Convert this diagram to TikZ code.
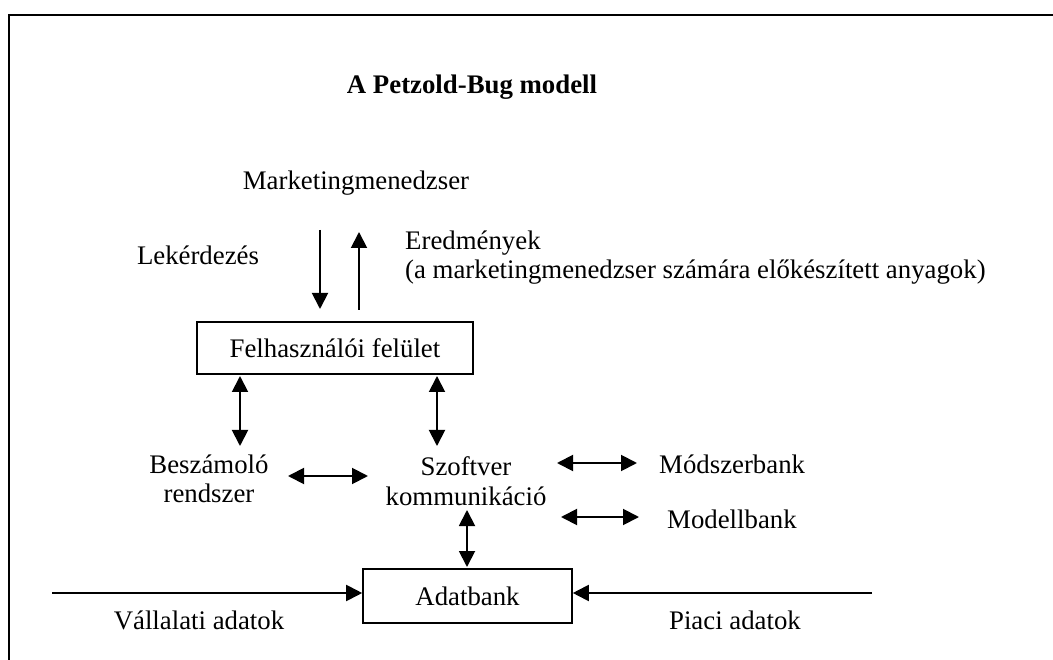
\documentclass[tikz,border=0pt]{standalone}
\usepackage{fontspec}
\setmainfont{Liberation Serif}
\usetikzlibrary{arrows.meta}
\begin{document}
\begin{tikzpicture}[x=1pt,y=-1pt,
  lbl/.style={inner sep=0pt, font=\fontsize{26.8}{29.5}\selectfont},
  box/.style={draw, line width=1.6pt, inner sep=0pt, font=\fontsize{26.8}{29.5}\selectfont},
  arr/.style={line width=1.9pt, -{Triangle[length=16pt,width=16pt]}},
  dbl/.style={line width=1.9pt, {Triangle[length=16pt,width=16pt]}-{Triangle[length=16pt,width=16pt]}}]
\useasboundingbox (0,0) rectangle (1053,660);
\draw[line width=2.2pt] (9,660) -- (9,15) -- (1053,15);

% texts
\node[lbl, font=\fontsize{26.8}{29.5}\selectfont\bfseries] (title) at (472,87) {A Petzold-Bug modell};
\node[lbl] (mm) at (356,183) {Marketingmenedzser};
\node[lbl] (lek) at (198,255) {Lekérdezés};
\node[lbl, anchor=west, align=left] (ered) at (405,257.5) {Eredmények\\(a marketingmenedzser számára előkészített anyagok)};
\node[box, minimum width=276pt, minimum height=52pt] (fel) at (335,348) {Felhasználói felület};
\node[lbl, align=center] (besz) at (209,479) {Beszámoló\\rendszer};
\node[lbl, align=center] (szoft) at (466,481) {Szoftver\\kommunikáció};
\node[lbl, anchor=west] (modsz) at (659,464) {Módszerbank};
\node[lbl, anchor=west] (modell) at (667,519) {Modellbank};
\node[box, minimum width=209pt, minimum height=54pt] (adat) at (467.5,596) {Adatbank};
\node[lbl] (vall) at (199,620) {Vállalati adatok};
\node[lbl] (piac) at (735,620) {Piaci adatok};

% connector ends
\coordinate (d1) at (320,230); \coordinate (d2) at (320,309);
\coordinate (u1) at (359,310); \coordinate (u2) at (359,232);
\coordinate (b1) at (240,376); \coordinate (b2) at (240,446);
\coordinate (s1) at (437,376); \coordinate (s2) at (437,446);
\coordinate (h1) at (288,476); \coordinate (h2) at (368,476);
\coordinate (m1) at (557,463); \coordinate (m2) at (637,463);
\coordinate (n1) at (561,517); \coordinate (n2) at (639,517);
\coordinate (a1) at (467,510); \coordinate (a2) at (467,567);
\coordinate (va) at (52,593);
\coordinate (pa) at (872,593);

\draw[arr] (d1) -- (d2);
\draw[arr] (u1) -- (u2);
\draw[dbl] (b1) -- (b2);
\draw[dbl] (s1) -- (s2);
\draw[dbl] (h1) -- (h2);
\draw[dbl] (m1) -- (m2);
\draw[dbl] (n1) -- (n2);
\draw[dbl] (a1) -- (a2);
\draw[arr] (va) -- (va -| adat.west);
\draw[arr] (pa) -- (pa -| adat.east);
\end{tikzpicture}
\end{document}
